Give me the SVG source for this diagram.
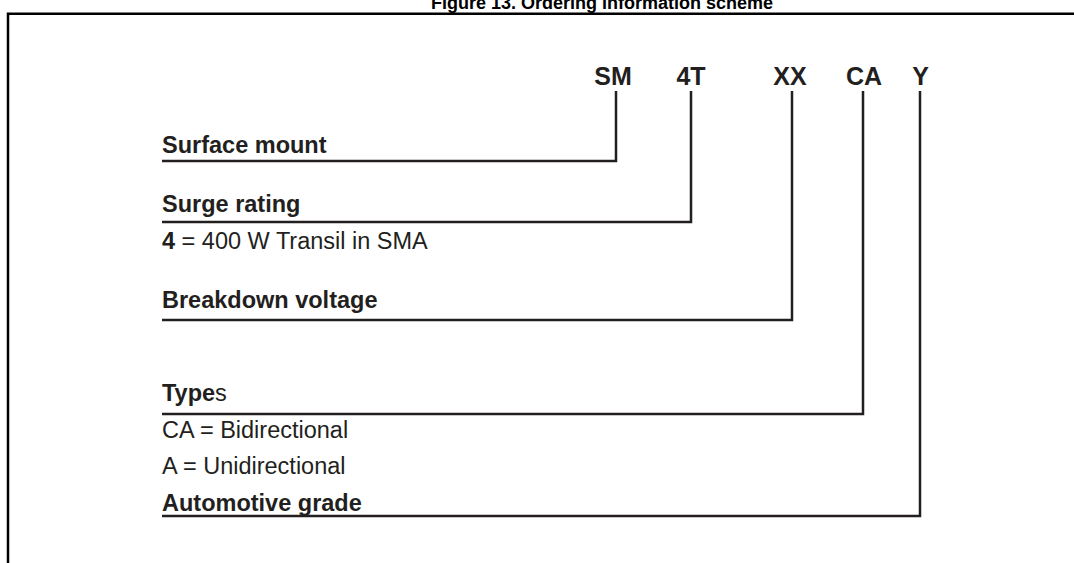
<svg xmlns="http://www.w3.org/2000/svg" width="1074" height="563" viewBox="0 0 1074 563">
<style>
  text { font-family: "Liberation Sans", Arial, sans-serif; fill: #231f20; }
  .title { font-size: 18px; font-weight: bold; fill: #000; }
  .code { font-size: 25px; font-weight: bold; text-anchor: middle; }
  .lbl { font-size: 23.5px; font-weight: bold; }
  .desc { font-size: 23.5px; }
  .b { font-weight: bold; }
  .n { font-weight: normal; }
  .conn { fill: none; stroke: #231f20; stroke-width: 2.5; }
  .frame { fill: none; stroke: #000; stroke-width: 2.5; }
</style>
<rect width="1074" height="563" fill="#fff"/>
<text class="title" x="602" y="9" text-anchor="middle">Figure 13. Ordering information scheme</text>
<path class="frame" d="M8,563 V13.7 H1074"/>
<g id="codes">
  <text class="code" x="613" y="85">SM</text>
  <text class="code" x="691" y="85">4T</text>
  <text class="code" x="790" y="85">XX</text>
  <text class="code" x="864" y="85">CA</text>
  <text class="code" x="920.5" y="85">Y</text>
</g>
<g id="connectors">
  <polyline class="conn" points="616,91 616,161 162,161"/>
  <polyline class="conn" points="691,91 691,222 162,222"/>
  <polyline class="conn" points="792,91 792,320 162,320"/>
  <polyline class="conn" points="863,91 863,414 162,414"/>
  <polyline class="conn" points="920,91 920,516 162,516"/>
</g>
<g id="surface-mount">
  <text class="lbl" x="162" y="153">Surface mount</text>
</g>
<g id="surge-rating">
  <text class="lbl" x="162" y="212">Surge rating</text>
  <text class="desc" x="162" y="249"><tspan class="b">4</tspan> = 400 W Transil in SMA</text>
</g>
<g id="breakdown-voltage">
  <text class="lbl" x="162" y="308">Breakdown voltage</text>
</g>
<g id="types">
  <text class="lbl" x="162" y="401">Type<tspan class="n">s</tspan></text>
  <text class="desc" x="162" y="438">CA = Bidirectional</text>
  <text class="desc" x="162" y="474">A = Unidirectional</text>
</g>
<g id="automotive-grade">
  <text class="lbl" x="162" y="511">Automotive grade</text>
</g>
</svg>
